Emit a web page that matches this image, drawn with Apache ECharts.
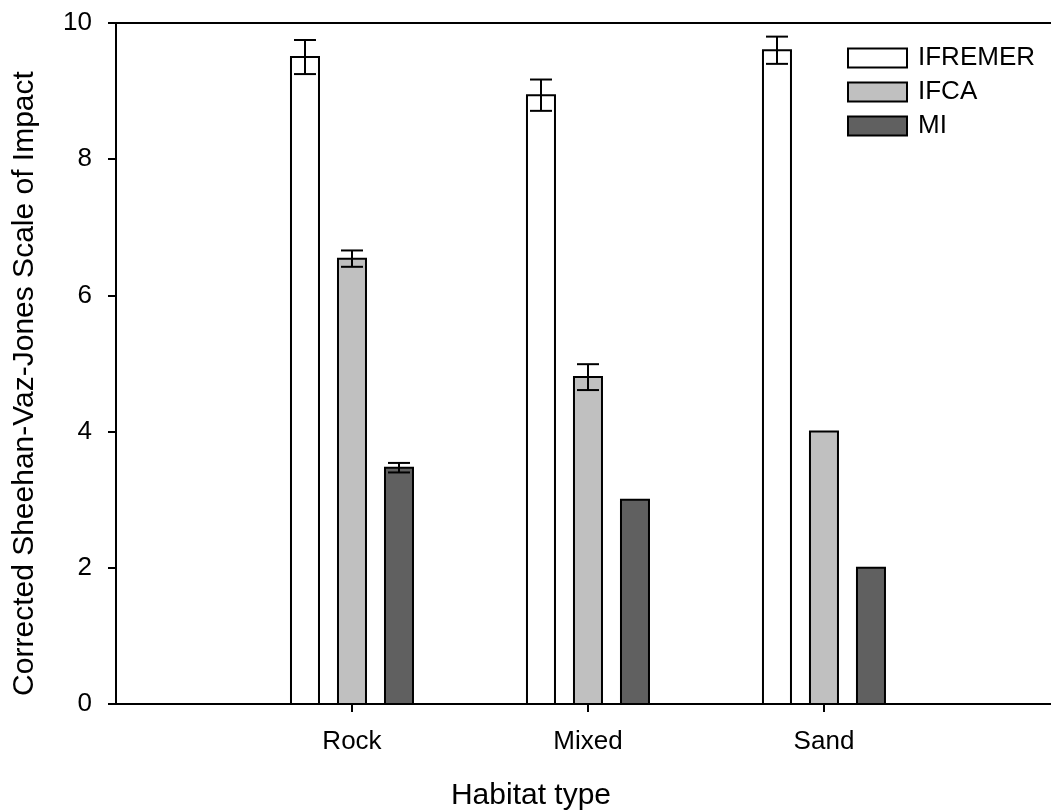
<!DOCTYPE html>
<html>
<head>
<meta charset="utf-8">
<script src="https://cdn.jsdelivr.net/npm/echarts@6/dist/echarts.min.js"></script>
<style>
html, body { margin: 0; padding: 0; background: #fff; }
#main { width: 1051px; height: 811px; }
</style>
</head>
<body>
<div id="main"></div>
<script>
/* data */
var categories = ['Rock', 'Mixed', 'Sand'];
var seriesNames = ['IFREMER', 'IFCA', 'MI'];
var ifremer = [9.5, 8.94, 9.6];
var ifremerErr = [0.25, 0.23, 0.2];
var ifca = [6.54, 4.8, 4.0];
var ifcaErr = [0.12, 0.19, 0];
var mi = [3.47, 3.0, 2.0];
var miErr = [0.07, 0, 0];
var yTicks = [0, 2, 4, 6, 8, 10];

var colors = ['#ffffff', '#c0c0c0', '#606060'];
var offsets = [-47, 0, 47];
var barW = 28;
var font = "'Liberation Sans', Arial, sans-serif";

function buildData(vals, errs) {
	var out = [];
	for(var i = 0; i < vals.length; i++) {
		out.push([i + 1, vals[i], errs[i]]);
	}
	return out;
}

/*柱子和误差线*/
function makeRender(idx) {
	return function(params, api) {
		var x = api.value(0);
		var v = api.value(1);
		var e = api.value(2);
		var base = api.coord([x, 0]);
		var top = api.coord([x, v]);
		var cx = base[0] + offsets[idx];
		var children = [{
			type: 'rect',
			shape: { x: cx - barW / 2, y: top[1], width: barW, height: base[1] - top[1] },
			style: { fill: colors[idx], stroke: '#000', lineWidth: 2 }
		}];
		if(e > 0) {
			var hi = api.coord([x, v + e])[1];
			var lo = api.coord([x, v - e])[1];
			var lineStyle = { stroke: '#000', lineWidth: 2 };
			children.push({ type: 'line', shape: { x1: cx, y1: hi, x2: cx, y2: lo }, style: lineStyle });
			children.push({ type: 'line', shape: { x1: cx - 11, y1: hi, x2: cx + 11, y2: hi }, style: lineStyle });
			children.push({ type: 'line', shape: { x1: cx - 11, y1: lo, x2: cx + 11, y2: lo }, style: lineStyle });
		}
		return { type: 'group', children: children };
	};
}

var allVals = [ifremer, ifca, mi];
var allErrs = [ifremerErr, ifcaErr, miErr];
var series = [];
var legendData = [];
for(var s = 0; s < seriesNames.length; s++) {
	series.push({
		name: seriesNames[s],
		type: 'custom',
		xAxisIndex: 0,
		renderItem: makeRender(s),
		itemStyle: { color: colors[s], borderColor: '#000', borderWidth: 2 },
		encode: { x: 0, y: 1 },
		data: buildData(allVals[s], allErrs[s])
	});
	legendData.push({
		name: seriesNames[s],
		icon: 'rect',
		itemStyle: { color: colors[s], borderColor: '#000', borderWidth: 2 }
	});
}

var option = {
	backgroundColor: '#fff',
	animation: false,
	textStyle: { fontFamily: font, color: '#000' },
	grid: { left: 113, top: 23, right: 0, bottom: 107, containLabel: false, outerBoundsMode: 'none' },
	legend: {
		orient: 'vertical',
		left: 842,
		top: 40,
		itemWidth: 59,
		itemHeight: 19,
		itemGap: 8,
		textStyle: { fontSize: 26, fontFamily: font, color: '#000', padding: [0, 0, 0, 6] },
		data: legendData
	},
	xAxis: [{
		type: 'value',
		min: -0.0127,
		max: 3.962,
		name: 'Habitat type',
		nameLocation: 'middle',
		nameGap: 77,
		nameTextStyle: { fontSize: 30, fontFamily: font, color: '#000', padding: [0, 102, 0, 0] },
		splitLine: { show: false },
		axisLine: { lineStyle: { color: '#000', width: 2 } },
		axisTick: { customValues: [1, 2, 3], length: 8, lineStyle: { color: '#000', width: 2 } },
		axisLabel: {
			customValues: [1, 2, 3],
			fontSize: 26, color: '#000', margin: 25, fontFamily: font,
			formatter: function(v) { return categories[Math.round(v) - 1]; }
		}
	}, {
		type: 'value',
		position: 'top',
		min: 0,
		max: 1,
		axisLine: { lineStyle: { color: '#000', width: 2 } },
		axisTick: { show: false },
		axisLabel: { show: false },
		splitLine: { show: false }
	}],
	yAxis: {
		type: 'value',
		min: 0,
		max: 10,
		interval: 2,
		name: 'Corrected Sheehan-Vaz-Jones Scale of Impact',
		nameLocation: 'middle',
		nameGap: 73,
		nameTextStyle: { fontSize: 30, fontFamily: font, color: '#000', padding: [0, 40, 0, 0] },
		splitLine: { show: false },
		axisLine: { show: true, lineStyle: { color: '#000', width: 2 } },
		axisTick: { show: true, length: 8, lineStyle: { color: '#000', width: 2 } },
		axisLabel: {
			fontSize: 26, color: '#000', margin: 21, fontFamily: font,
			customValues: yTicks
		}
	},
	series: series
};

echarts.init(document.getElementById('main')).setOption(option);
</script>
</body>
</html>
